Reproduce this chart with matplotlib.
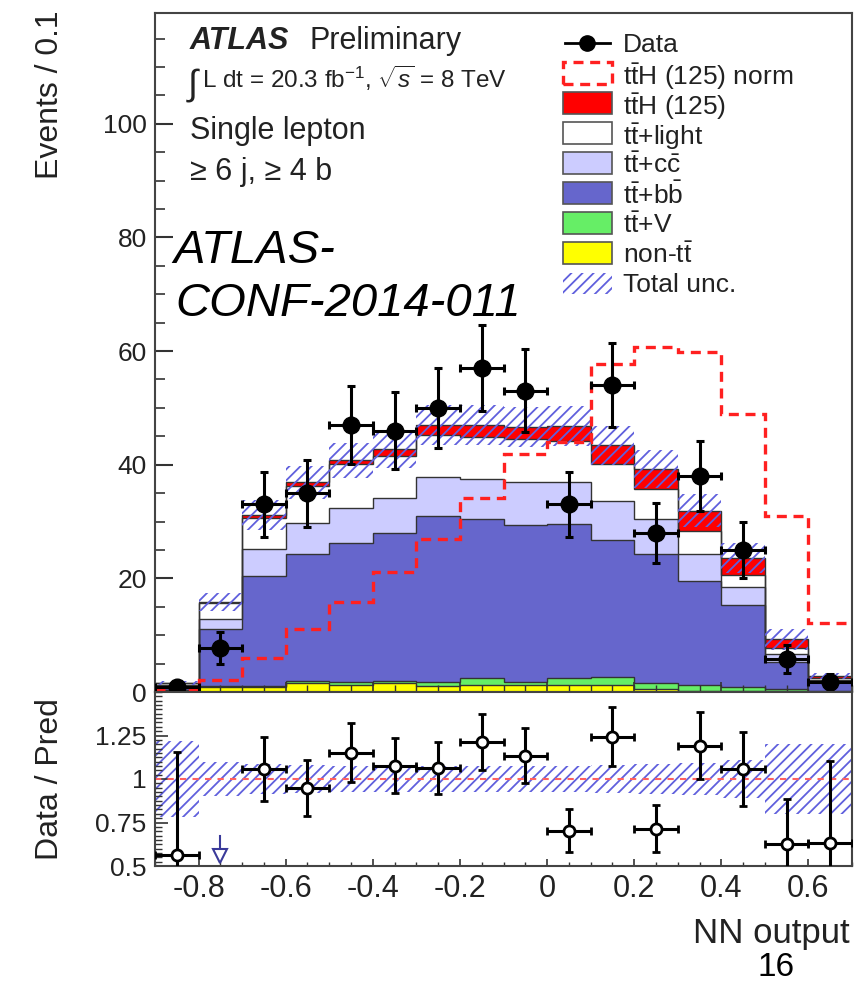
import numpy as np
import matplotlib
matplotlib.use("Agg")
import matplotlib.pyplot as plt
from matplotlib.patches import Rectangle
from matplotlib.lines import Line2D
from matplotlib.ticker import MultipleLocator

plt.rcParams['font.family'] = ['Liberation Sans', 'DejaVu Sans']
plt.rcParams['mathtext.fontset'] = 'custom'
plt.rcParams['mathtext.rm'] = 'Liberation Sans'
plt.rcParams['mathtext.it'] = 'Liberation Sans:italic'
plt.rcParams['mathtext.bf'] = 'Liberation Sans:bold'
plt.rcParams['axes.unicode_minus'] = False
plt.rcParams['hatch.linewidth'] = 1.3

# NN output binning: 16 bins of 0.1 from -0.9 to 0.7
edges = np.round(np.linspace(-0.9, 0.7, 17), 2)
centers = (edges[:-1] + edges[1:]) / 2

# observed events
data = np.array([0.9, 7.7, 33, 35, 47, 46, 50, 57, 53, 33, 54, 28, 38, 25, 5.8, 1.8])

# predicted stack (bottom -> top)
non_tt = [0.3, 0.9, 0.9, 1.6, 1.2, 1.5, 1.1, 1.3, 1.2, 1.3, 1.3, 0.5, 0.2, 0.1, 0.1, 0.05]
tt_v = [0.05, 0.1, 0.2, 0.4, 0.6, 0.5, 0.6, 1.1, 0.6, 1.2, 1.3, 1.0, 1.1, 0.8, 0.4, 0.15]
tt_bb = [0.75, 10.0, 19.3, 22.2, 24.4, 26.0, 29.3, 28.0, 27.6, 27.1, 24.2, 22.8, 18.3, 14.4, 4.8, 1.6]
tt_cc = [0.2, 1.8, 4.7, 5.6, 6.2, 6.2, 6.9, 7.1, 7.5, 7.3, 6.8, 6.1, 4.6, 3.1, 1.3, 0.3]
tt_light = [0.25, 2.9, 5.6, 6.5, 7.7, 7.4, 7.3, 7.3, 7.6, 7.3, 6.5, 5.3, 4.1, 2.2, 1.1, 0.3]
tth = [0.05, 0.2, 0.5, 0.6, 0.7, 1.1, 1.8, 2.2, 2.2, 2.7, 3.3, 3.5, 3.6, 3.0, 1.6, 0.45]

# ttH normalised to the background
tth_norm = [0.3, 2.1, 6.0, 11.0, 15.8, 21.2, 27.0, 34.2, 41.9, 44.0, 57.8, 60.8, 59.9, 49.0, 31.0, 12.1]

# relative total uncertainty per bin
unc_rel = np.array([0.22, 0.10, 0.085, 0.08, 0.075, 0.075, 0.075, 0.075, 0.075, 0.075,
                    0.08, 0.085, 0.09, 0.11, 0.2, 0.2])

components = [non_tt, tt_v, tt_bb, tt_cc, tt_light, tth]
comp_colors = ['#ffff00', '#66ee66', '#6666cc', '#ccccff', '#ffffff', '#ff0000']

legend_labels = ['Data', r'$\mathrm{t\bar{t}H}$ (125) norm', r'$\mathrm{t\bar{t}H}$ (125)',
                 r'$\mathrm{t\bar{t}}$+light', r'$\mathrm{t\bar{t}}$+$\mathrm{c\bar{c}}$',
                 r'$\mathrm{t\bar{t}}$+$\mathrm{b\bar{b}}$', r'$\mathrm{t\bar{t}}$+V',
                 r'non-$\mathrm{t\bar{t}}$', 'Total unc.']

x_ticks = [-0.8, -0.6, -0.4, -0.2, 0, 0.2, 0.4, 0.6]
x_ticklabels = ['-0.8', '-0.6', '-0.4', '-0.2', '0', '0.2', '0.4', '0.6']
r_ticks = [0.5, 0.75, 1, 1.25]
r_ticklabels = ['0.5', '0.75', '1', '1.25']

HATCH_COL = '#6060dd'
HATCH = '///'
TXT = '#222222'
DASH = (0, (3, 2))

W, H = 862, 984


def fx(px):
    return px / W


def fy(py):
    return 1 - py / H


fig = plt.figure(figsize=(W / 100, H / 100), dpi=100)
ax = fig.add_axes([fx(155), fy(692), (852 - 155) / W, (692 - 13) / H])
rax = fig.add_axes([fx(155), fy(866), (852 - 155) / W, (866 - 692) / H])

# ---- main panel: stacked prediction
bottom = np.zeros(len(centers))
for vals, col in zip(components, comp_colors):
    top = bottom + np.array(vals)
    ax.stairs(top, edges, baseline=bottom, fill=True, color=col, lw=0, zorder=1)
    ax.stairs(top, edges, baseline=None, color='#333333', lw=1.0, zorder=1.5)
    bottom = top
total = bottom

ax.stairs(total * (1 + unc_rel), edges, baseline=total * (1 - unc_rel), fill=True,
          facecolor='none', edgecolor=HATCH_COL, hatch=HATCH, lw=0, zorder=2)
ax.stairs(tth_norm, edges, baseline=None, color='#ff2020', lw=2.4,
          linestyle=DASH, zorder=3)
ax.errorbar(centers, data, xerr=0.05, yerr=np.sqrt(data), fmt='o', color='black',
            ms=12, elinewidth=2.2, capsize=3, capthick=2.2, zorder=5)

ax.set_xlim(-0.9, 0.7)
ax.set_ylim(0, 119.5)
ax.yaxis.set_major_locator(MultipleLocator(20))
ax.yaxis.set_minor_locator(MultipleLocator(5))
ax.xaxis.set_major_locator(MultipleLocator(0.2))
ax.xaxis.set_minor_locator(MultipleLocator(0.05))
ax.tick_params(which='both', direction='in', colors='#333333', labelcolor=TXT)
ax.tick_params(axis='y', which='major', length=13, width=1.5, labelsize=19, pad=6)
ax.tick_params(axis='y', which='minor', length=7, width=1.2)
ax.tick_params(axis='x', which='major', length=7, width=1.2, labelbottom=False)
ax.tick_params(axis='x', which='minor', length=5, width=1.0)
for s in ax.spines.values():
    s.set_linewidth(1.5)
    s.set_color('#444444')

# ---- ratio panel
ratio = data / total
ratio_err = np.sqrt(data) / total
ok = ratio >= 0.5
rax.stairs(1 + unc_rel, edges, baseline=1 - unc_rel, fill=True, facecolor='none',
           edgecolor=HATCH_COL, hatch=HATCH, lw=0, zorder=1)
rax.axhline(1, color='#ff6060', lw=1.5, ls=(0, (3, 3)), zorder=2)
rax.errorbar(centers[ok], ratio[ok], xerr=0.05, yerr=ratio_err[ok], fmt='o', color='black',
             mfc='white', mec='black', ms=8, mew=2, elinewidth=2.2, capsize=3,
             capthick=2.2, zorder=5)
for c in centers[~ok]:
    rax.plot([c, c], [0.67, 0.6], color='#3a3a9a', lw=1.5, zorder=5)
    rax.plot(c, 0.56, marker='v', ms=10, mfc='white', mec='#3a3a9a', mew=1.5, zorder=5)

rax.set_xlim(-0.9, 0.7)
rax.set_ylim(0.5, 1.5)
rax.set_xticks(x_ticks, x_ticklabels)
rax.set_yticks(r_ticks, r_ticklabels)
rax.xaxis.set_minor_locator(MultipleLocator(0.05))
rax.yaxis.set_minor_locator(MultipleLocator(0.025))
rax.tick_params(which='both', direction='in', colors='#333333', labelcolor=TXT)
rax.tick_params(axis='x', which='major', length=5, width=1.2, labelsize=22, pad=6)
rax.tick_params(axis='x', which='minor', length=3, width=1.0)
rax.tick_params(axis='y', which='major', length=9, width=1.2, labelsize=19, pad=6)
rax.tick_params(axis='y', which='minor', length=5, width=1.0)
for s in rax.spines.values():
    s.set_linewidth(1.5)
    s.set_color('#444444')

# ---- axis titles
fig.text(fx(50), fy(10), 'Events / 0.1', rotation=90, ha='center', va='top',
         fontsize=23, color=TXT)
fig.text(fx(50), fy(698), 'Data / Pred', rotation=90, ha='center', va='top',
         fontsize=23, color=TXT)
fig.text(fx(850), fy(943), 'NN output', ha='right', va='baseline', fontsize=25, color=TXT)

# ---- ATLAS labels
fig.text(fx(190), fy(49), 'ATLAS', fontsize=22, fontweight='bold', fontstyle='italic',
         va='baseline', color=TXT)
fig.text(fx(310), fy(49), 'Preliminary', fontsize=22, va='baseline', color=TXT)
fig.text(fx(186), fy(95), r'$\int$', fontsize=26, va='baseline', color=TXT)
fig.text(fx(202), fy(88), r'L dt = 20.3 fb$^{-1}$, $\sqrt{s}$ = 8 TeV', fontsize=17.5,
         va='baseline', color=TXT)
fig.text(fx(190), fy(139), 'Single lepton', fontsize=22, va='baseline', color=TXT)
fig.text(fx(190), fy(180), '≥ 6 j, ≥ 4 b', fontsize=22, va='baseline', color=TXT)

fig.text(fx(173), fy(263), 'ATLAS-', fontsize=34, fontstyle='italic', va='baseline',
         color='black')
fig.text(fx(175), fy(316), 'CONF-2014-011', fontsize=34, fontstyle='italic', va='baseline',
         color='black')
fig.text(fx(776), fy(976), '16', fontsize=24, ha='center', va='baseline', color='black')

# ---- legend
row0, pitch = 43, 30
hx0, hx1, tx = 563, 612, 623
hh = 21
for i, lab in enumerate(legend_labels):
    yc = row0 + i * pitch
    if i == 0:
        fig.add_artist(Line2D([fx(hx0 + 2), fx(hx1 - 2)], [fy(yc), fy(yc)], color='black',
                              lw=2, transform=fig.transFigure))
        fig.add_artist(Line2D([fx((hx0 + hx1) / 2)], [fy(yc)], marker='o', ms=11,
                              color='black', transform=fig.transFigure))
    elif i == 1:
        fig.add_artist(Rectangle((fx(hx0), fy(yc + hh / 2)), (hx1 - hx0) / W, hh / H,
                                 facecolor='none', edgecolor='#ff2020', lw=2.4,
                                 ls=DASH, transform=fig.transFigure))
    elif i == len(legend_labels) - 1:
        fig.add_artist(Rectangle((fx(hx0), fy(yc + hh / 2)), (hx1 - hx0) / W, hh / H,
                                 facecolor='none', edgecolor=HATCH_COL, hatch=HATCH, lw=0,
                                 transform=fig.transFigure))
    else:
        col = comp_colors[::-1][i - 2]
        fig.add_artist(Rectangle((fx(hx0), fy(yc + hh / 2)), (hx1 - hx0) / W, hh / H,
                                 facecolor=col, edgecolor='#555555', lw=1.2,
                                 transform=fig.transFigure))
    fig.text(fx(tx), fy(yc), lab, fontsize=19, va='center_baseline', color=TXT)

fig.savefig('out.png', dpi=100)
